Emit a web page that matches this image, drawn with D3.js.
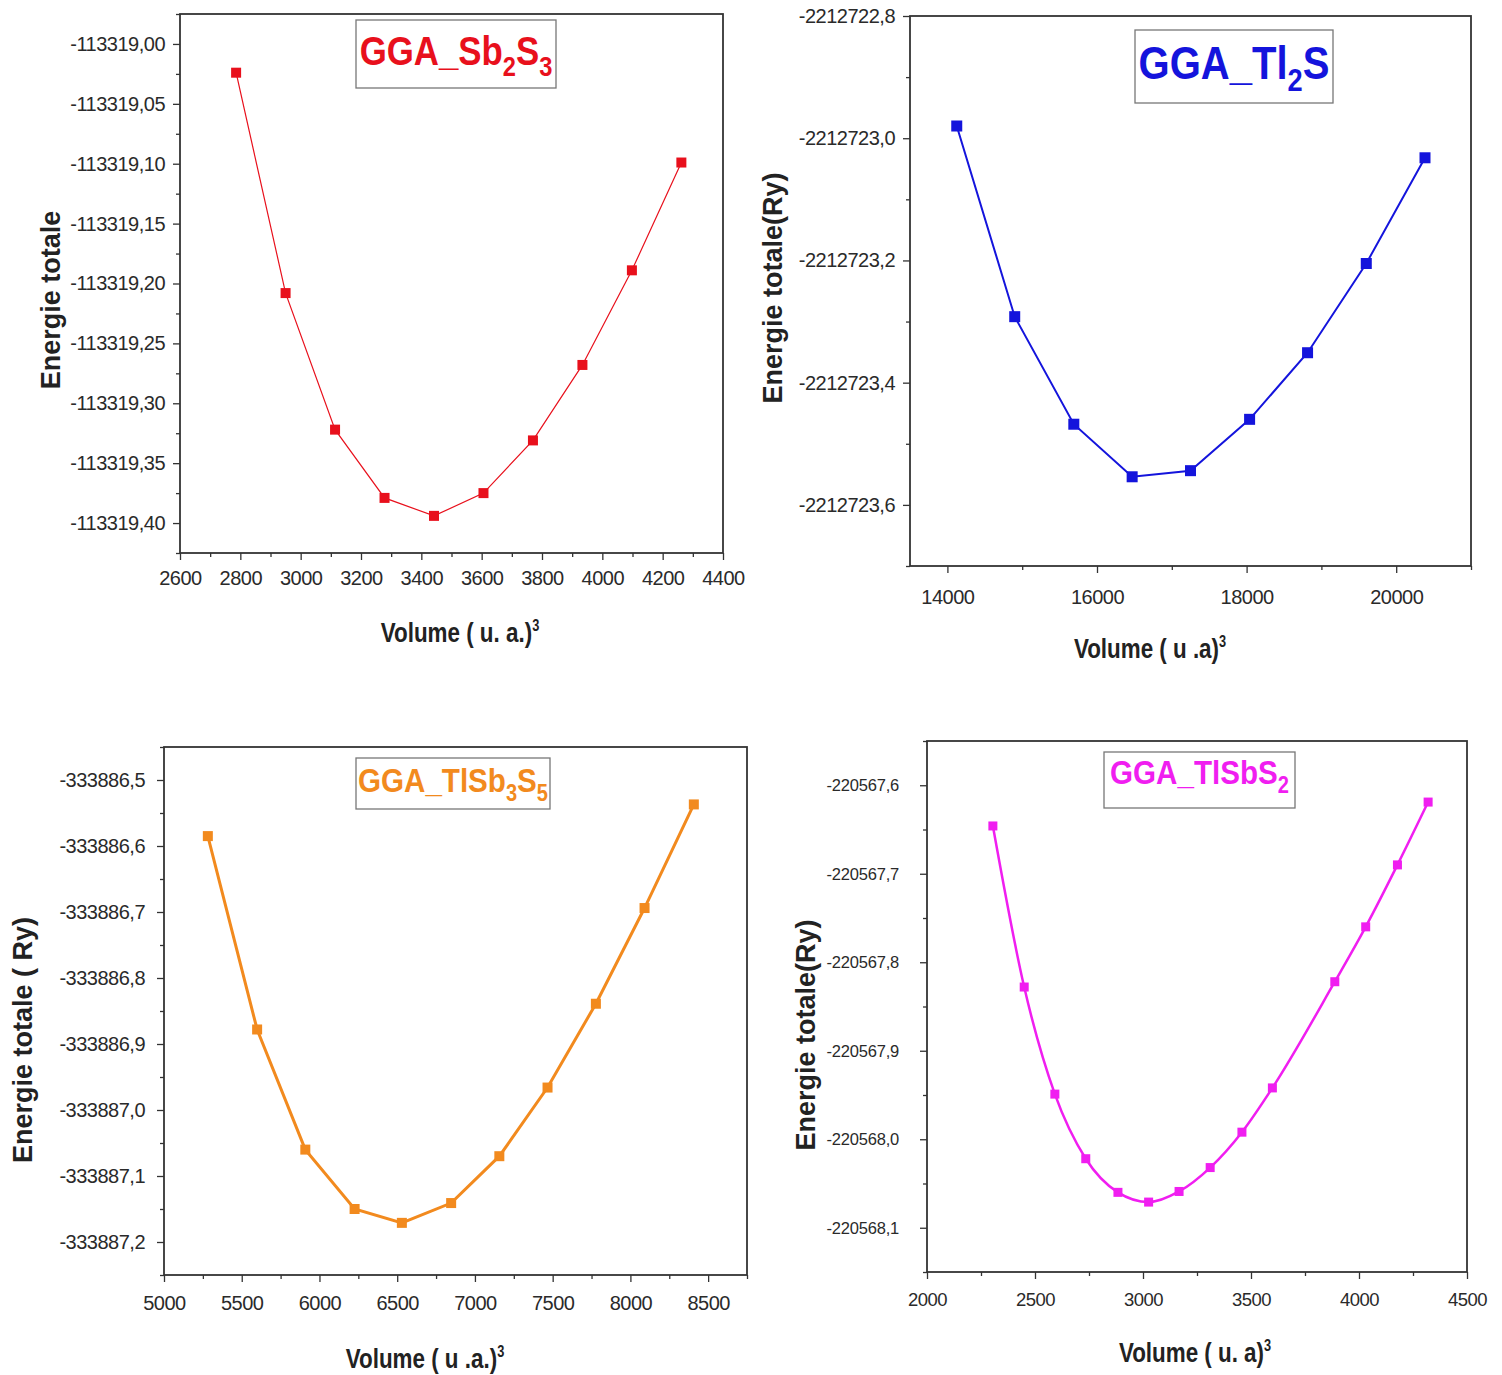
<!DOCTYPE html>
<html><head><meta charset="utf-8">
<script src="https://cdn.jsdelivr.net/npm/d3@7"></script>
<style>
body{margin:0;background:#fff}
svg{display:block}
text{font-family:"Liberation Sans",Arial,sans-serif}
.tick text{fill:#2a2a2a}
</style>
</head><body>
<svg id="chart" width="1502" height="1375"></svg>
<script>
// ---------- DATA ----------
const sb2s3Volume = [2786, 2950, 3114, 3278, 3442, 3606, 3770, 3934, 4098, 4262];
const sb2s3Energy = [-113319.024, -113319.208, -113319.322, -113319.379, -113319.394, -113319.375, -113319.331, -113319.268, -113319.189, -113319.099];
const sb2s3XTicks = [2600, 2800, 3000, 3200, 3400, 3600, 3800, 4000, 4200, 4400];
const sb2s3YTicks = [-113319.00, -113319.05, -113319.10, -113319.15, -113319.20, -113319.25, -113319.30, -113319.35, -113319.40];

const tl2sVolume = [14125, 14900, 15690, 16470, 17250, 18040, 18815, 19600, 20385];
const tl2sEnergy = [-2212722.980, -2212723.292, -2212723.468, -2212723.554, -2212723.544, -2212723.460, -2212723.351, -2212723.205, -2212723.032];
const tl2sXTicks = [14000, 16000, 18000, 20000];
const tl2sYTicks = [-2212722.8, -2212723.0, -2212723.2, -2212723.4, -2212723.6];

const tlsb3s5Volume = [5282, 5599, 5909, 6226, 6530, 6847, 7157, 7467, 7778, 8091, 8408];
const tlsb3s5Energy = [-333886.585, -333886.878, -333887.060, -333887.150, -333887.171, -333887.141, -333887.070, -333886.966, -333886.839, -333886.694, -333886.537];
const tlsb3s5XTicks = [5000, 5500, 6000, 6500, 7000, 7500, 8000, 8500];
const tlsb3s5YTicks = [-333886.5, -333886.6, -333886.7, -333886.8, -333886.9, -333887.0, -333887.1, -333887.2];

const tlsbs2Volume = [2305, 2450, 2592, 2735, 2884, 3026, 3167, 3311, 3458, 3599, 3888, 4031, 4178, 4320];
const tlsbs2Energy = [-220567.646, -220567.828, -220567.949, -220568.022, -220568.060, -220568.071, -220568.059, -220568.032, -220567.992, -220567.942, -220567.822, -220567.760, -220567.690, -220567.619];
const tlsbs2XTicks = [2000, 2500, 3000, 3500, 4000, 4500];
const tlsbs2YTicks = [-220567.6, -220567.7, -220567.8, -220567.9, -220568.0, -220568.1];

// ---------- LAYOUT ----------
const panels = [
  { vol: sb2s3Volume, en: sb2s3Energy, xt: sb2s3XTicks, yt: sb2s3YTicks,
    xDom: [2600, 4400], yDom: [-113319.425, -113318.975], dec: 2,
    L: 180, R: 723, T: 14, B: 553, color: "#e8101c", lw: 1.2, ms: 10, curve: d3.curveLinear,
    title: [["GGA_Sb", 0], ["2", 1], ["S", 0], ["3", 1]], box: [356, 20, 200, 68], tsize: 40, tbase: 11,
    ylab: "Energie totale", ylx: 50, yly: 300, xlab: "Volume ( u. a.)", xlx: 460, xly: 632,
    yPad: 8, xPad: 11, fsY: 20, fsX: 20 },
  { vol: tl2sVolume, en: tl2sEnergy, xt: tl2sXTicks, yt: tl2sYTicks,
    xDom: [13500, 21000], yDom: [-2212723.7, -2212722.8], dec: 1,
    L: 910, R: 1471, T: 16, B: 566, color: "#1414dc", lw: 2, ms: 11, curve: d3.curveLinear,
    title: [["GGA_Tl", 0], ["2", 1], ["S", 0]], box: [1135, 30, 198, 73], tsize: 46, tbase: 12,
    ylab: "Energie totale(Ry)", ylx: 772, yly: 288, xlab: "Volume ( u .a)", xlx: 1150, xly: 648,
    yPad: 8, xPad: 17, fsY: 20, fsX: 20 },
  { vol: tlsb3s5Volume, en: tlsb3s5Energy, xt: tlsb3s5XTicks, yt: tlsb3s5YTicks,
    xDom: [5000, 8750], yDom: [-333887.25, -333886.45], dec: 1,
    L: 164, R: 747, T: 747, B: 1275, color: "#f28a1e", lw: 3, ms: 10, curve: d3.curveLinear,
    title: [["GGA_TlSb", 0], ["3", 1], ["S", 0], ["5", 1]], box: [356, 758, 194, 51], tsize: 34, tbase: 8,
    ylab: "Energie totale ( Ry)", ylx: 22, yly: 1040, xlab: "Volume ( u .a.)", xlx: 425, xly: 1358,
    yPad: 12, xPad: 14, fsY: 20, fsX: 20 },
  { vol: tlsbs2Volume, en: tlsbs2Energy, xt: tlsbs2XTicks, yt: tlsbs2YTicks,
    xDom: [2000, 4500], yDom: [-220568.15, -220567.55], dec: 1,
    L: 927, R: 1467, T: 741, B: 1272, color: "#f01ef0", lw: 2.5, ms: 9, curve: d3.curveMonotoneX,
    title: [["GGA_TlSbS", 0], ["2", 1]], box: [1104, 752, 191, 56], tsize: 34, tbase: 4,
    ylab: "Energie totale(Ry)", ylx: 805, yly: 1035, xlab: "Volume ( u. a)", xlx: 1195, xly: 1352,
    yPad: 21, xPad: 14, fsY: 16.5, fsX: 18.5 }
];

const svg = d3.select("#chart");

function minorsOf(ticks, dom) {
  const step = Math.abs(ticks[1] - ticks[0]) / 2;
  const lo = Math.min(...dom), hi = Math.max(...dom);
  const out = [];
  const start = Math.min(...ticks) - step * 4;
  for (let k = 0; k < 200; k++) {
    const v = start + k * step;
    if (v > hi + 1e-9) break;
    if (v < lo - 1e-9) continue;
    const isMajor = ticks.some(t => Math.abs(t - v) < step / 10);
    if (!isMajor) out.push(v);
  }
  return out;
}

panels.forEach(p => {
  const x = d3.scaleLinear().domain(p.xDom).range([p.L, p.R]);
  const y = d3.scaleLinear().domain(p.yDom).range([p.B, p.T]);
  const g = svg.append("g");
  const fmt = v => v.toFixed(p.dec).replace(".", ",");

  // axes
  const xa = g.append("g").attr("transform", `translate(0,${p.B})`)
    .call(d3.axisBottom(x).tickValues(p.xt).tickFormat(d => String(d)).tickSize(7).tickPadding(p.xPad));
  g.append("g").attr("transform", `translate(0,${p.B})`)
    .call(d3.axisBottom(x).tickValues(minorsOf(p.xt, p.xDom)).tickFormat("").tickSize(4));
  const ya = g.append("g").attr("transform", `translate(${p.L},0)`)
    .call(d3.axisLeft(y).tickValues(p.yt).tickFormat(fmt).tickSize(7).tickPadding(p.yPad));
  g.append("g").attr("transform", `translate(${p.L},0)`)
    .call(d3.axisLeft(y).tickValues(minorsOf(p.yt, p.yDom)).tickFormat("").tickSize(4));
  g.selectAll(".domain").remove();
  g.selectAll(".tick line").attr("stroke", "#333").attr("stroke-width", 1.3);
  xa.selectAll(".tick text").attr("font-size", p.fsX).attr("font-family", "Liberation Sans, Arial, sans-serif")
    .style("letter-spacing", "-0.5px");
  ya.selectAll(".tick text").attr("font-size", p.fsY).attr("font-family", "Liberation Sans, Arial, sans-serif")
    .style("letter-spacing", p.fsY > 18 ? "-0.5px" : "-0.2px");

  // frame
  g.append("rect").attr("x", p.L).attr("y", p.T).attr("width", p.R - p.L).attr("height", p.B - p.T)
    .attr("fill", "none").attr("stroke", "#333").attr("stroke-width", 1.8);

  // line & markers
  const pts = p.vol.map((v, i) => [v, p.en[i]]);
  g.append("path").datum(pts)
    .attr("fill", "none").attr("stroke", p.color).attr("stroke-width", p.lw)
    .attr("d", d3.line().x(d => x(d[0])).y(d => y(d[1])).curve(p.curve));
  g.selectAll("rect.m").data(pts).join("rect").attr("class", "m")
    .attr("x", d => x(d[0]) - p.ms / 2).attr("y", d => y(d[1]) - p.ms / 2)
    .attr("width", p.ms).attr("height", p.ms).attr("fill", p.color);

  // title box
  g.append("rect").attr("x", p.box[0]).attr("y", p.box[1]).attr("width", p.box[2]).attr("height", p.box[3])
    .attr("fill", "#fff").attr("stroke", "#777").attr("stroke-width", 1.3);
  const cx = p.box[0] + p.box[2] / 2, cy = p.box[1] + p.box[3] / 2 + p.tbase;
  const tt = g.append("text")
    .attr("transform", `translate(${cx},${cy}) scale(0.87,1)`)
    .attr("x", 0).attr("y", 0).attr("text-anchor", "middle")
    .attr("font-size", p.tsize).attr("font-weight", "bold").attr("fill", p.color);
  let n = 0;
  p.title.forEach(([s, sub]) => {
    const ts = tt.append("tspan").text(s);
    if (sub) ts.attr("font-size", p.tsize * 0.68).attr("dy", p.tsize * 0.27);
    else if (n > 0) ts.attr("dy", -p.tsize * 0.27);
    n++;
  });

  // y label
  g.append("text")
    .attr("transform", `translate(${p.ylx},${p.yly}) rotate(-90)`)
    .attr("text-anchor", "middle").attr("dy", "0.36em")
    .attr("font-size", 27).attr("font-weight", "bold").attr("fill", "#222").text(p.ylab);

  // x label
  const xl = g.append("text")
    .attr("transform", `translate(${p.xlx},${p.xly}) scale(0.8,1)`)
    .attr("x", 0).attr("y", 0).attr("dy", "0.36em").attr("text-anchor", "middle")
    .attr("font-size", 28).attr("font-weight", "bold").attr("fill", "#222");
  xl.append("tspan").text(p.xlab);
  xl.append("tspan").text("3").attr("font-size", 16).attr("dy", -11);
});
</script>
</body></html>
